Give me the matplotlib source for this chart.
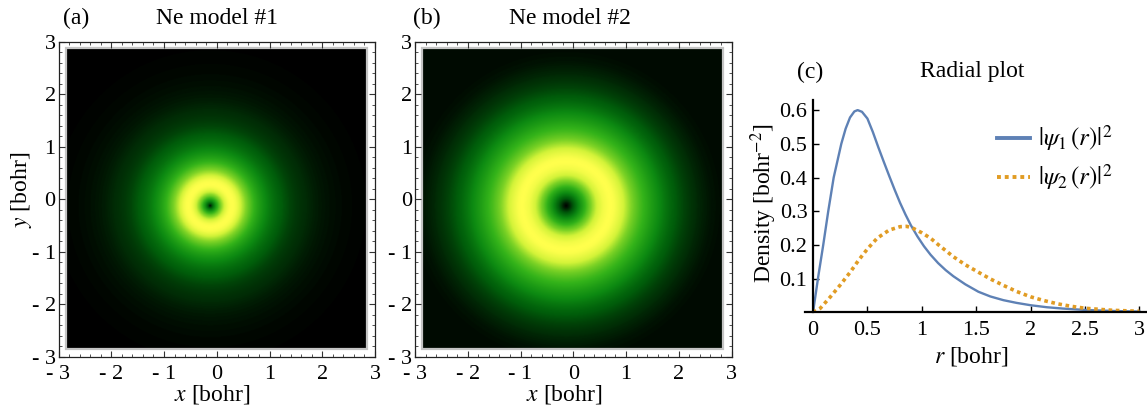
import numpy as np
import matplotlib
matplotlib.use('Agg')
import matplotlib.pyplot as plt
from matplotlib.colors import LinearSegmentedColormap
from matplotlib.patches import Rectangle
from matplotlib.ticker import FixedLocator, MultipleLocator, FuncFormatter

plt.rcParams['font.family'] = ['Liberation Serif', 'DejaVu Serif']
plt.rcParams['mathtext.fontset'] = 'stix'

# ---------------- data ----------------
r1 = [0, 0.05, 0.094, 0.14, 0.19, 0.26, 0.30, 0.34, 0.38, 0.41, 0.45, 0.50, 0.55, 0.60,
      0.65, 0.70, 0.75, 0.80, 0.85, 0.90, 0.96, 1.02, 1.08, 1.15, 1.22, 1.29, 1.40, 1.52, 1.63,
      1.75, 1.87, 2.0, 2.15, 2.3, 2.5, 2.75, 3.0]
dens1 = [0, 0.11, 0.20, 0.30, 0.40, 0.50, 0.545, 0.578, 0.596, 0.60, 0.595, 0.575, 0.535, 0.49,
         0.447, 0.405, 0.364, 0.325, 0.29, 0.258, 0.225, 0.196, 0.171, 0.146, 0.125, 0.107, 0.083,
         0.061, 0.047, 0.036, 0.028, 0.021, 0.015, 0.011, 0.007, 0.004, 0.002]

r2 = [0, 0.067, 0.16, 0.25, 0.344, 0.42, 0.50, 0.59, 0.70, 0.80, 0.86, 0.91, 1.0, 1.08,
      1.15, 1.22, 1.29, 1.40, 1.52, 1.63, 1.75, 1.87, 2.0, 2.12, 2.25, 2.37, 2.5, 2.75, 3.0]
dens2 = [0, 0.012, 0.046, 0.081, 0.12, 0.155, 0.188, 0.22, 0.244, 0.254, 0.255, 0.251,
         0.236, 0.22, 0.201, 0.183, 0.165, 0.141, 0.119, 0.099, 0.08, 0.062, 0.046, 0.035,
         0.025, 0.018, 0.012, 0.006, 0.003]

panel_tags = ['(a)', '(b)', '(c)']
panel_titles = ['Ne model #1', 'Ne model #2', 'Radial plot']
legend_labels = [r'$|\psi_1\,(r)|^2$', r'$|\psi_2\,(r)|^2$']
frame_ticks = [-3, -2, -1, 0, 1, 2, 3]
radial_xticks = [0, 0.5, 1, 1.5, 2, 2.5, 3]
radial_yticks = [0.1, 0.2, 0.3, 0.4, 0.5, 0.6]

# ---------------- styling ----------------
W, H = 1147, 416
BLUE = '#5E81B5'
ORANGE = '#E19C24'
FS = 17
TFS = 16
cmap = LinearSegmentedColormap.from_list('avocado', [
    (0.0, (0.0, 0.0, 0.0)),
    (0.05, (0.0, 0.17, 0.02)),
    (0.15, (0.0, 0.36, 0.04)),
    (0.3, (0.05, 0.54, 0.07)),
    (0.5, (0.20, 0.70, 0.10)),
    (0.7, (0.50, 0.83, 0.15)),
    (0.85, (0.82, 0.95, 0.22)),
    (1.0, (1.0, 1.0, 0.30)),
])

fig = plt.figure(figsize=(W / 100, H / 100), dpi=100)


def box(l, t, r, b):
    return [l / W, 1 - b / H, (r - l) / W, (b - t) / H]


def ftext(x, y, s, size=FS, **kw):
    fig.text(x / W, 1 - y / H, s, fontsize=size, ha='center', va='center', **kw)


def neg_fmt(v, pos):
    v = int(round(v))
    return f'- {abs(v)}' if v < 0 else f'{v}'


img_extent = (-2.86, 2.84, -2.85, 2.88)
center = (-0.13, -0.13)

for i, (rr, dd, l, r) in enumerate([(r1, dens1, 58.5, 375), (r2, dens2, 415, 731.5)]):
    ax = fig.add_axes(box(l, 41.7, r, 357))
    xs = np.linspace(img_extent[0], img_extent[1], 500)
    ys = np.linspace(img_extent[2], img_extent[3], 500)
    X, Y = np.meshgrid(xs, ys)
    R = np.hypot(X - center[0], Y - center[1])
    Z = np.interp(R, rr, dd) / max(dd)
    ax.imshow(Z, extent=img_extent, origin='lower', cmap=cmap, vmin=0, vmax=1,
              interpolation='bilinear', aspect='auto')
    ax.add_patch(Rectangle((img_extent[0], img_extent[2]),
                           img_extent[1] - img_extent[0], img_extent[3] - img_extent[2],
                           fill=False, edgecolor='#c4c4c4', lw=1.6))
    ax.set_xlim(-3, 3)
    ax.set_ylim(-3, 3)
    ax.xaxis.set_major_locator(FixedLocator(frame_ticks))
    ax.yaxis.set_major_locator(FixedLocator(frame_ticks))
    ax.xaxis.set_minor_locator(MultipleLocator(0.2))
    ax.yaxis.set_minor_locator(MultipleLocator(0.2))
    ax.xaxis.set_major_formatter(FuncFormatter(neg_fmt))
    ax.yaxis.set_major_formatter(FuncFormatter(neg_fmt))
    ax.tick_params(which='both', direction='in', top=True, right=True, color='#333333',
                   labelsize=TFS)
    ax.tick_params(which='major', length=4, width=0.8)
    ax.tick_params(which='minor', length=2.3, width=0.6)
    ax.tick_params(axis='x', pad=6)
    ax.tick_params(axis='y', pad=2)
    for s in ax.spines.values():
        s.set_linewidth(0.9)
        s.set_color('#222222')

ftext(76, 18, panel_tags[0])
ftext(217, 18, panel_titles[0])
ftext(427, 18, panel_tags[1])
ftext(570, 18, panel_titles[1])
ftext(212, 395, r'$x$ [bohr]')
ftext(564, 395, r'$x$ [bohr]')
ftext(22, 190, r'$y$ [bohr]', rotation=90)

# ---------------- radial plot ----------------
axc = fig.add_axes(box(805.4, 100, 1147, 312.3))
axc.plot(r1, dens1, color=BLUE, lw=1.7, solid_joinstyle='round')
axc.plot(r2, dens2, color=ORANGE, lw=2.6, linestyle=(0, (1.0, 1.0)),
         dash_capstyle='butt')
axc.set_xlim(-0.07, 3.07)
axc.set_ylim(0, 0.63)
axc.spines['left'].set_position(('data', 0))
axc.spines['bottom'].set_position(('data', 0))
axc.spines['top'].set_visible(False)
axc.spines['right'].set_visible(False)
for s in ('left', 'bottom'):
    axc.spines[s].set_linewidth(1.6)
axc.xaxis.set_major_locator(FixedLocator(radial_xticks))
axc.yaxis.set_major_locator(FixedLocator(radial_yticks))
axc.xaxis.set_major_formatter(FuncFormatter(lambda v, p: f'{v:g}'))
axc.yaxis.set_major_formatter(FuncFormatter(lambda v, p: f'{v:g}'))
axc.tick_params(direction='in', length=4, width=1.0, labelsize=TFS)
axc.tick_params(axis='x', pad=6.5)
axc.tick_params(axis='y', pad=4)
axc.patch.set_alpha(0)

ftext(810, 72, panel_tags[2])
ftext(972, 72, panel_titles[2])
ftext(971, 357, r'$r$ [bohr]')
ftext(764, 203, r'Density [bohr$^{-2}$]', rotation=90)

# legend
fig.add_artist(plt.Line2D([997 / W, 1030 / W], [1 - 138 / H, 1 - 138 / H],
                          color=BLUE, lw=2.8))
fig.add_artist(plt.Line2D([997 / W, 1030 / W], [1 - 176.7 / H, 1 - 176.7 / H],
                          color=ORANGE, lw=2.8, linestyle=(0, (1.0, 1.0)),
                          dash_capstyle='butt'))
fig.text(1038 / W, 1 - 138 / H, legend_labels[0], fontsize=18, ha='left', va='center')
fig.text(1038 / W, 1 - 176.7 / H, legend_labels[1], fontsize=18, ha='left', va='center')

fig.savefig('out.png', dpi=100)
